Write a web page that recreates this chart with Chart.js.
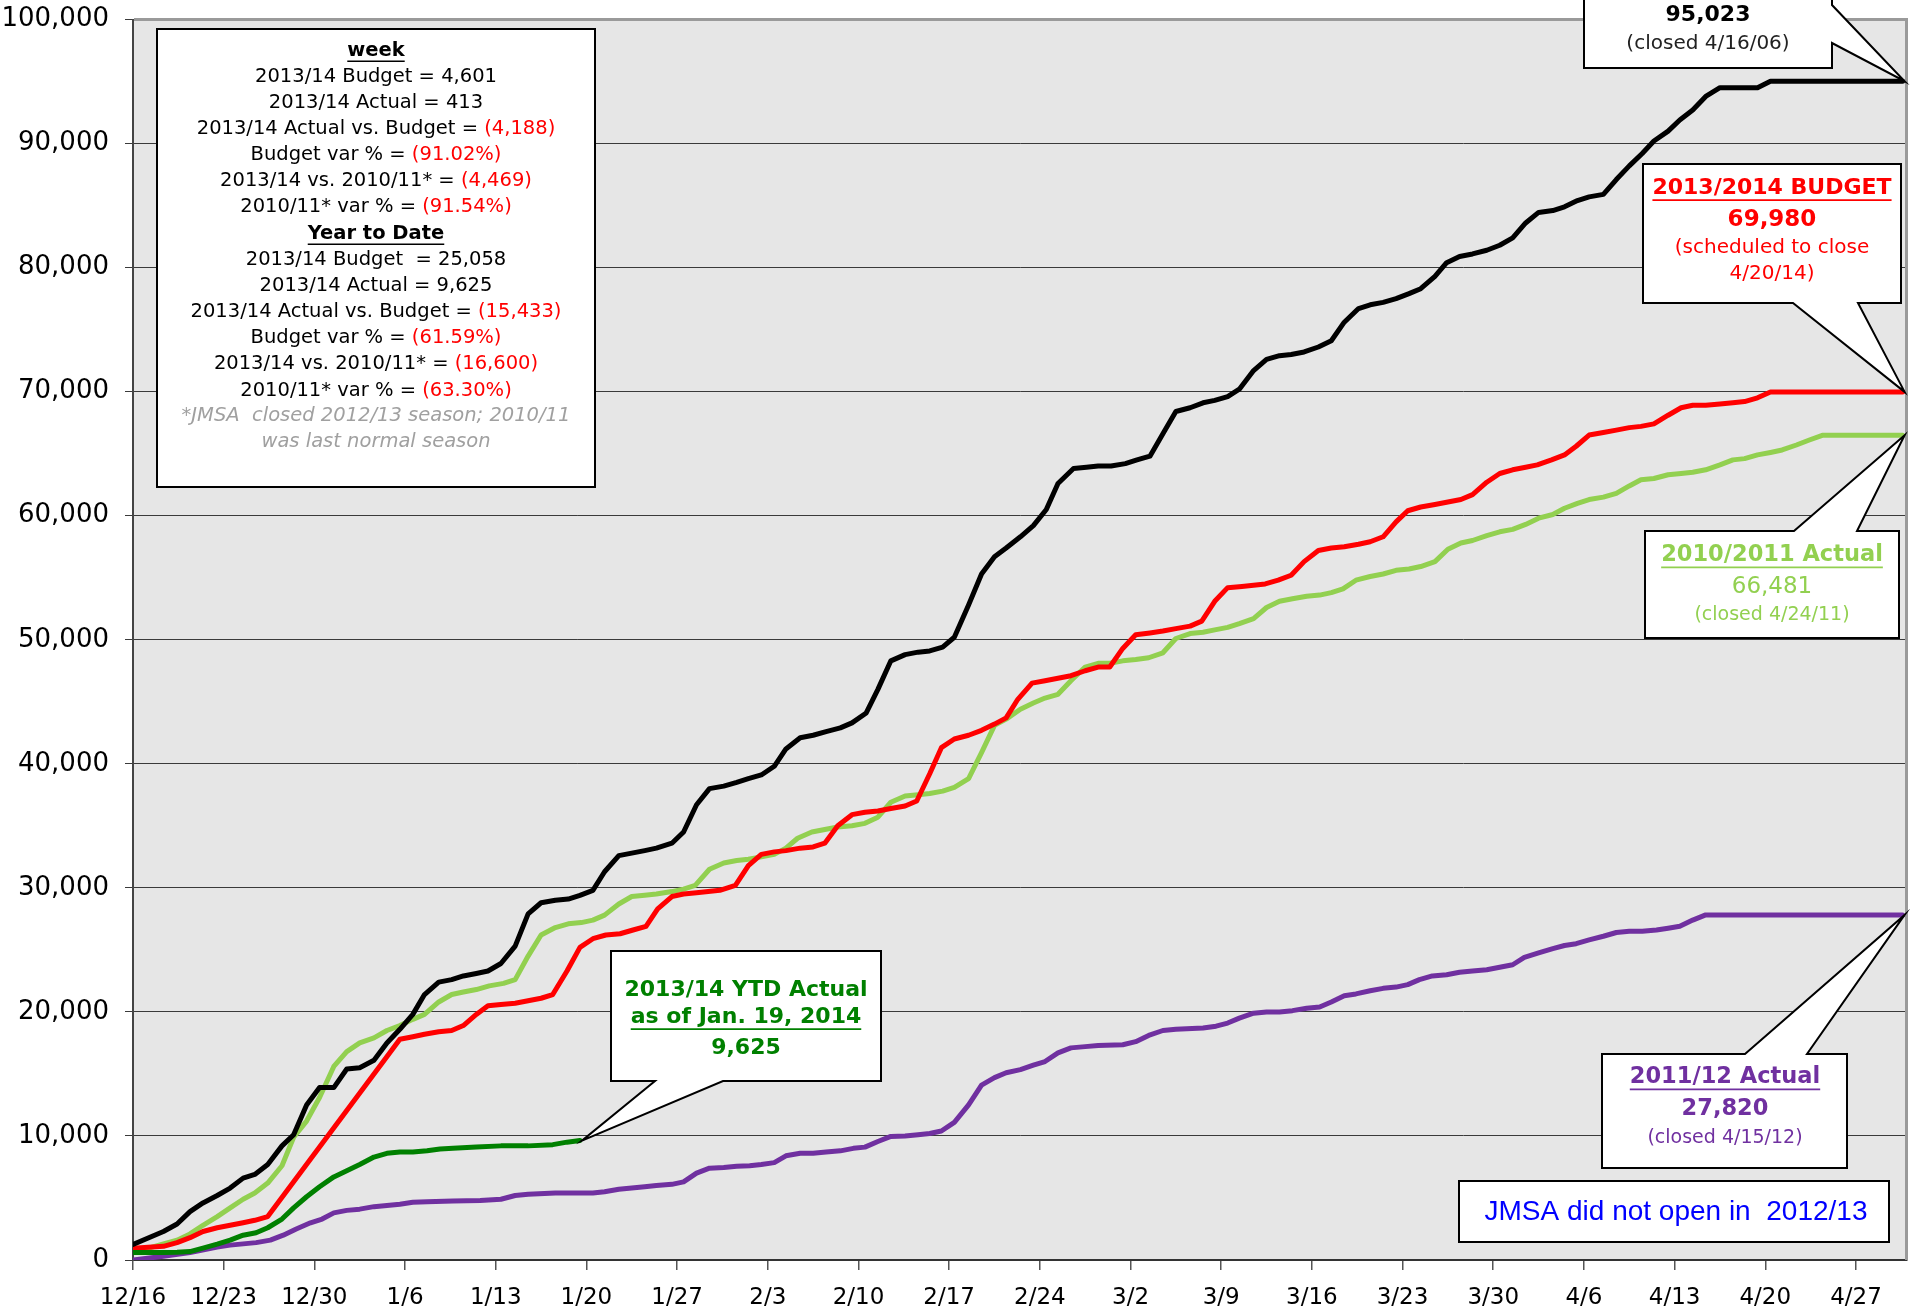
<!DOCTYPE html>
<html><head><meta charset="utf-8">
<script src="https://cdn.jsdelivr.net/npm/chart.js@4.4.1/dist/chart.umd.min.js"></script>
<style>html,body{margin:0;padding:0;background:#fff;}</style>
</head><body>
<canvas id="c" width="1916" height="1312"></canvas>
<script>
// x tick labels (one per week)
const tickLabels = ['12/16','12/23','12/30','1/6','1/13','1/20','1/27','2/3','2/10','2/17','2/24','3/2','3/9','3/16','3/23','3/30','4/6','4/13','4/20','4/27'];

// Each point: [days after 12/16, cumulative visits]
const record0506 = [[0,1250],[2.35,2300],[3.4,2900],[4.4,3900],[5.4,4600],[6.5,5200],[7.5,5800],[8.5,6600],[9.4,6900],[10.4,7700],[11.5,9200],[12.4,10100],[13.4,12500],[14.4,13900],[15.5,13900],[16.5,15400],[17.5,15500],[18.6,16100],[19.6,17500],[20.6,18600],[21.6,19800],[22.5,21400],[23.6,22400],[24.6,22600],[25.5,22900],[26.5,23100],[27.4,23300],[28.4,23900],[29.5,25300],[30.5,27900],[31.5,28800],[32.6,29000],[33.6,29100],[34.5,29400],[35.5,29800],[36.4,31300],[37.5,32600],[38.5,32800],[39.5,33000],[40.4,33200],[41.6,33600],[42.5,34500],[43.5,36700],[44.5,38000],[45.6,38200],[46.6,38500],[47.5,38800],[48.5,39100],[49.5,39800],[50.4,41200],[51.5,42100],[52.5,42300],[53.5,42600],[54.6,42900],[55.5,43300],[56.6,44100],[57.5,46000],[58.5,48300],[59.6,48800],[60.6,49000],[61.5,49100],[62.5,49400],[63.4,50200],[64.5,52800],[65.5,55300],[66.5,56700],[67.4,57400],[68.5,58300],[69.5,59200],[70.5,60500],[71.4,62600],[72.6,63800],[73.6,63900],[74.5,64000],[75.5,64000],[76.6,64200],[77.5,64500],[78.5,64800],[79.5,66600],[80.5,68400],[81.6,68700],[82.6,69100],[83.5,69300],[84.5,69600],[85.4,70200],[86.5,71700],[87.5,72600],[88.5,72900],[89.4,73000],[90.4,73200],[91.5,73600],[92.5,74100],[93.5,75600],[94.6,76700],[95.5,77000],[96.5,77200],[97.5,77500],[98.5,77900],[99.4,78300],[100.5,79300],[101.4,80400],[102.4,80900],[103.4,81100],[104.5,81400],[105.5,81800],[106.5,82400],[107.5,83600],[108.5,84450],[109.6,84600],[110.5,84900],[111.5,85400],[112.4,85700],[113.5,85900],[114.5,87100],[115.5,88200],[116.5,89200],[117.4,90200],[118.5,91000],[119.4,91900],[120.4,92700],[121.4,93800],[122.5,94500],[125.4,94500],[126.4,95023],[136.6,95023]];

const budget1314 = [[0,950],[2.35,1100],[3.4,1400],[4.4,1800],[5.4,2300],[6.5,2600],[7.5,2800],[8.5,3000],[9.4,3200],[10.4,3500],[20.6,17800],[21.6,18000],[22.5,18200],[23.6,18400],[24.6,18500],[25.5,18900],[26.5,19800],[27.4,20500],[28.4,20600],[29.5,20700],[30.5,20900],[31.5,21100],[32.4,21400],[33.5,23300],[34.5,25200],[35.5,25900],[36.5,26200],[37.6,26300],[38.6,26600],[39.6,26900],[40.5,28300],[41.6,29300],[42.5,29500],[43.5,29600],[44.4,29700],[45.3,29800],[46.5,30200],[47.5,31800],[48.5,32700],[49.5,32900],[50.4,33000],[51.5,33200],[52.5,33300],[53.4,33600],[54.4,35000],[55.5,35900],[56.5,36100],[57.5,36200],[58.5,36400],[59.6,36600],[60.5,37000],[61.5,39200],[62.4,41300],[63.4,42000],[64.5,42300],[65.5,42700],[66.5,43200],[67.4,43700],[68.3,45200],[69.4,46500],[70.4,46700],[71.4,46900],[72.4,47100],[73.5,47500],[74.5,47800],[75.4,47800],[76.4,49300],[77.4,50400],[78.5,50550],[79.5,50700],[80.5,50900],[81.6,51100],[82.5,51500],[83.5,53100],[84.5,54200],[85.6,54300],[86.5,54400],[87.4,54500],[88.4,54800],[89.4,55200],[90.4,56300],[91.5,57200],[92.5,57400],[93.5,57500],[94.6,57700],[95.5,57900],[96.5,58300],[97.5,59500],[98.4,60400],[99.4,60700],[100.5,60900],[101.5,61100],[102.5,61300],[103.4,61700],[104.5,62700],[105.5,63400],[106.5,63700],[107.5,63900],[108.4,64100],[109.5,64500],[110.5,64900],[111.4,65600],[112.4,66500],[113.5,66700],[114.5,66900],[115.5,67100],[116.4,67200],[117.4,67400],[118.5,68100],[119.5,68700],[120.4,68900],[121.4,68900],[122.5,69000],[123.5,69100],[124.4,69200],[125.4,69500],[126.4,69980],[136.6,69980]];

const actual1011 = [[0,600],[2.35,1300],[3.4,1600],[4.4,2100],[5.4,2800],[6.5,3500],[7.5,4200],[8.5,4900],[9.4,5400],[10.4,6200],[11.5,7600],[12.4,9900],[13.4,11200],[14.4,13100],[15.5,15600],[16.5,16800],[17.5,17500],[18.6,17900],[19.6,18500],[20.6,18900],[21.6,19400],[22.5,19800],[23.6,20800],[24.6,21400],[25.5,21600],[26.5,21800],[27.5,22100],[28.6,22300],[29.5,22600],[30.5,24500],[31.5,26200],[32.6,26800],[33.6,27100],[34.6,27200],[35.5,27400],[36.4,27800],[37.5,28700],[38.5,29300],[39.5,29400],[40.4,29500],[41.6,29700],[42.5,29900],[43.4,30200],[44.5,31500],[45.6,32000],[46.6,32200],[47.5,32300],[48.5,32500],[49.5,32700],[50.4,33200],[51.3,34000],[52.4,34500],[53.4,34700],[54.4,34900],[55.5,35000],[56.5,35200],[57.5,35700],[58.5,36900],[59.6,37400],[60.6,37500],[61.5,37600],[62.5,37800],[63.4,38100],[64.5,38800],[65.5,40900],[66.5,43100],[67.4,43600],[68.5,44400],[69.5,44900],[70.4,45300],[71.4,45600],[72.4,46700],[73.5,47800],[74.5,48100],[75.4,48100],[76.4,48300],[77.4,48400],[78.4,48550],[79.5,48950],[80.5,50100],[81.6,50500],[82.6,50600],[83.5,50800],[84.5,51000],[85.4,51300],[86.5,51700],[87.5,52600],[88.5,53100],[89.5,53300],[90.6,53500],[91.6,53600],[92.5,53800],[93.4,54100],[94.4,54800],[95.5,55100],[96.5,55300],[97.5,55600],[98.5,55700],[99.4,55900],[100.5,56300],[101.5,57300],[102.5,57800],[103.4,58000],[104.5,58400],[105.5,58700],[106.5,58900],[107.5,59300],[108.5,59800],[109.6,60100],[110.5,60600],[111.5,61000],[112.4,61300],[113.5,61500],[114.5,61800],[115.5,62400],[116.4,62900],[117.4,63000],[118.5,63300],[119.5,63400],[120.4,63500],[121.4,63700],[122.5,64100],[123.5,64500],[124.4,64600],[125.4,64900],[126.4,65100],[127.3,65300],[128.4,65700],[129.4,66100],[130.4,66481],[136.6,66481]];

const actual1112 = [[0,0],[2.35,300],[4.4,600],[6.5,1050],[7.5,1200],[8.5,1300],[9.5,1400],[10.6,1600],[11.6,2000],[12.6,2500],[13.7,3000],[14.6,3300],[15.5,3800],[16.5,4000],[17.5,4100],[18.6,4300],[19.6,4400],[20.6,4500],[21.6,4650],[22.7,4700],[24.7,4750],[26.8,4800],[28.4,4900],[29.5,5200],[30.5,5300],[32.6,5400],[35.5,5400],[36.4,5500],[37.5,5700],[38.5,5800],[39.5,5900],[40.4,6000],[41.6,6100],[42.5,6300],[43.5,7000],[44.5,7400],[45.6,7450],[46.6,7550],[47.6,7600],[48.5,7700],[49.5,7850],[50.4,8400],[51.5,8600],[52.5,8600],[53.5,8700],[54.6,8800],[55.6,9000],[56.5,9100],[57.5,9550],[58.5,9960],[59.6,10000],[60.6,10100],[61.5,10200],[62.4,10400],[63.4,11100],[64.5,12500],[65.5,14100],[66.5,14700],[67.4,15100],[68.5,15350],[69.5,15700],[70.4,16000],[71.4,16700],[72.4,17100],[73.5,17200],[74.5,17300],[76.4,17350],[77.4,17600],[78.4,18100],[79.5,18500],[80.5,18600],[82.6,18700],[83.6,18850],[84.5,19100],[85.4,19500],[86.5,19900],[87.5,20000],[88.5,20000],[89.5,20100],[90.6,20300],[91.6,20400],[92.5,20800],[93.5,21300],[94.4,21450],[95.5,21700],[96.5,21900],[97.5,22000],[98.4,22200],[99.3,22600],[100.3,22900],[101.4,23000],[102.4,23200],[103.4,23300],[104.5,23400],[105.5,23600],[106.5,23800],[107.4,24400],[108.5,24750],[109.6,25100],[110.5,25350],[111.4,25500],[112.4,25800],[113.5,26100],[114.5,26400],[115.5,26500],[116.5,26500],[117.6,26600],[118.5,26750],[119.4,26900],[120.4,27400],[121.4,27820],[136.6,27820]];

const actual1314 = [[0,600],[2.35,600],[3.4,620],[4.4,680],[5.4,960],[6.5,1280],[7.5,1600],[8.5,2000],[9.5,2200],[10.4,2600],[11.5,3300],[12.4,4200],[13.4,5100],[14.4,5900],[15.5,6700],[16.5,7200],[17.5,7700],[18.6,8300],[19.6,8600],[20.6,8700],[21.6,8700],[22.7,8800],[23.7,8950],[24.7,9000],[26.5,9100],[28.4,9200],[30.5,9200],[32.4,9300],[33.5,9500],[34.5,9625]];

// Text of the boxes
const weekLines = [
  [['2013/14 Budget = 4,601','#000']],
  [['2013/14 Actual = 413','#000']],
  [['2013/14 Actual vs. Budget = ','#000'],['(4,188)','#ff0000']],
  [['Budget var % = ','#000'],['(91.02%)','#ff0000']],
  [['2013/14 vs. 2010/11* = ','#000'],['(4,469)','#ff0000']],
  [['2010/11* var % = ','#000'],['(91.54%)','#ff0000']]
];
const ytdLines = [
  [['2013/14 Budget  = 25,058','#000']],
  [['2013/14 Actual = 9,625','#000']],
  [['2013/14 Actual vs. Budget = ','#000'],['(15,433)','#ff0000']],
  [['Budget var % = ','#000'],['(61.59%)','#ff0000']],
  [['2013/14 vs. 2010/11* = ','#000'],['(16,600)','#ff0000']],
  [['2010/11* var % = ','#000'],['(63.30%)','#ff0000']]
];
const noteLines = ['*JMSA  closed 2012/13 season; 2010/11','was last normal season'];

const FONT = '"DejaVu Sans", sans-serif';
const pts = a => a.map(p => ({x:p[0], y:p[1]}));

function drawRuns(ctx, runs, cx, y, font, size, underline) {
  ctx.font = font;
  ctx.textBaseline = 'middle';
  ctx.textAlign = 'left';
  const widths = runs.map(r => ctx.measureText(r[0]).width);
  const total = widths.reduce((s, w) => s + w, 0);
  let x = cx - total / 2;
  runs.forEach((r, i) => { ctx.fillStyle = r[1]; ctx.fillText(r[0], x, y); x += widths[i]; });
  if (underline) {
    ctx.strokeStyle = runs[0][1];
    ctx.lineWidth = Math.max(1.5, size / 12);
    ctx.beginPath();
    ctx.moveTo(cx - total / 2, y + size * 0.55);
    ctx.lineTo(cx + total / 2, y + size * 0.55);
    ctx.stroke();
  }
}

function calloutShape(ctx, b, w, tip) {
  ctx.save();
  ctx.beginPath();
  ctx.moveTo(b.x1, b.y1);
  if (w && w.side === 'top') { ctx.lineTo(w.a, b.y1); ctx.lineTo(tip.x, tip.y); ctx.lineTo(w.b, b.y1); }
  ctx.lineTo(b.x2, b.y1);
  if (w && w.side === 'right') { ctx.lineTo(b.x2, w.a); ctx.lineTo(tip.x, tip.y); ctx.lineTo(b.x2, w.b); }
  ctx.lineTo(b.x2, b.y2);
  if (w && w.side === 'bottom') { ctx.lineTo(w.b, b.y2); ctx.lineTo(tip.x, tip.y); ctx.lineTo(w.a, b.y2); }
  ctx.lineTo(b.x1, b.y2);
  ctx.closePath();
  ctx.fillStyle = '#fff';
  ctx.fill();
  ctx.strokeStyle = '#000';
  ctx.lineWidth = 2;
  ctx.lineJoin = 'miter';
  ctx.stroke();
  ctx.restore();
}

const framePlugin = {
  id: 'frame',
  beforeDraw(chart) {
    const {ctx, chartArea: a} = chart;
    ctx.save();
    ctx.fillStyle = '#e6e6e6';
    ctx.fillRect(a.left, a.top, a.right - a.left, a.bottom - a.top);
    ctx.restore();
  },
  beforeDatasetsDraw(chart) {
    const {ctx, chartArea: a} = chart;
    ctx.save();
    ctx.strokeStyle = '#9a9a9a';
    ctx.lineWidth = 3;
    ctx.beginPath();
    ctx.moveTo(a.left + 1, a.top);
    ctx.lineTo(a.right, a.top);
    ctx.lineTo(a.right, a.bottom);
    ctx.stroke();
    ctx.restore();
  }
};

const calloutPlugin = {
  id: 'callouts',
  afterDraw(chart) {
    const ctx = chart.ctx;
    const xs = chart.scales.x, ys = chart.scales.y;
    const tipOf = arr => { const p = arr[arr.length - 1]; return {x: xs.getPixelForValue(p[0]) + 2, y: ys.getPixelForValue(p[1])}; };
    ctx.save();

    // Info box (top-left)
    calloutShape(ctx, {x1:157, y1:29, x2:595, y2:487}, null, null);
    const cx = 376, fs = 19.5;
    drawRuns(ctx, [['week','#000']], cx, 50.5, `bold ${fs}px ${FONT}`, fs, true);
    weekLines.forEach((l, i) => drawRuns(ctx, l, cx, 76.5 + i * 26.1, `${fs}px ${FONT}`, fs, false));
    drawRuns(ctx, [['Year to Date','#000']], cx, 233.5, `bold ${fs}px ${FONT}`, fs, true);
    ytdLines.forEach((l, i) => drawRuns(ctx, l, cx, 259.5 + i * 26.2, `${fs}px ${FONT}`, fs, false));
    noteLines.forEach((t, i) => drawRuns(ctx, [[t,'#a0a0a0']], cx, 416 + i * 26, `italic ${fs}px ${FONT}`, fs, false));

    // Record season callout (top right)
    calloutShape(ctx, {x1:1584, y1:-40, x2:1832, y2:68}, {side:'right', a:5, b:43}, tipOf(record0506));
    drawRuns(ctx, [['95,023','#000']], 1708, 15, `bold 22px ${FONT}`, 22, false);
    drawRuns(ctx, [['(closed 4/16/06)','#222']], 1708, 44, `20px ${FONT}`, 20, false);

    // Budget callout
    calloutShape(ctx, {x1:1643, y1:164, x2:1901, y2:303}, {side:'bottom', a:1793, b:1858}, tipOf(budget1314));
    drawRuns(ctx, [['2013/2014 BUDGET','#ff0000']], 1772, 188, `bold 22px ${FONT}`, 22, true);
    drawRuns(ctx, [['69,980','#ff0000']], 1772, 220, `bold 23px ${FONT}`, 23, false);
    drawRuns(ctx, [['(scheduled to close','#ff0000']], 1772, 248, `20px ${FONT}`, 20, false);
    drawRuns(ctx, [['4/20/14)','#ff0000']], 1772, 274, `20px ${FONT}`, 20, false);

    // 2010/11 callout
    calloutShape(ctx, {x1:1645, y1:531, x2:1899, y2:638}, {side:'top', a:1794, b:1857}, tipOf(actual1011));
    drawRuns(ctx, [['2010/2011 Actual','#92d050']], 1772, 555, `bold 22.5px ${FONT}`, 22.5, true);
    drawRuns(ctx, [['66,481','#92d050']], 1772, 587, `23px ${FONT}`, 23, false);
    drawRuns(ctx, [['(closed 4/24/11)','#92d050']], 1772, 615, `19px ${FONT}`, 19, false);

    // 2013/14 YTD callout
    calloutShape(ctx, {x1:611, y1:951, x2:881, y2:1081}, {side:'bottom', a:655, b:723}, tipOf(actual1314));
    drawRuns(ctx, [['2013/14 YTD Actual','#008000']], 746, 990, `bold 22px ${FONT}`, 22, false);
    drawRuns(ctx, [['as of Jan. 19, 2014','#008000']], 746, 1017, `bold 22px ${FONT}`, 22, true);
    drawRuns(ctx, [['9,625','#008000']], 746, 1048, `bold 22px ${FONT}`, 22, false);

    // 2011/12 callout
    calloutShape(ctx, {x1:1602, y1:1054, x2:1847, y2:1168}, {side:'top', a:1745, b:1807}, tipOf(actual1112));
    drawRuns(ctx, [['2011/12 Actual','#7030a0']], 1725, 1077, `bold 22.5px ${FONT}`, 22.5, true);
    drawRuns(ctx, [['27,820','#7030a0']], 1725, 1109, `bold 22.5px ${FONT}`, 22.5, false);
    drawRuns(ctx, [['(closed 4/15/12)','#7030a0']], 1725, 1138, `19px ${FONT}`, 19, false);

    // Note box
    calloutShape(ctx, {x1:1459, y1:1181, x2:1889, y2:1242}, null, null);
    drawRuns(ctx, [['JMSA did not open in  2012/13','#0000ff']], 1676, 1212, `28px "Liberation Sans", Arial, sans-serif`, 28, false);

    ctx.restore();
  }
};

const lineDs = (label, arr, color) => ({
  label, data: pts(arr), borderColor: color, backgroundColor: color,
  borderWidth: 5, pointRadius: 0, tension: 0, fill: false,
  borderJoinStyle: 'round', borderCapStyle: 'round'
});

new Chart(document.getElementById('c'), {
  type: 'line',
  data: {
    datasets: [
      lineDs('2013/14 YTD Actual', actual1314, '#008000'),
      lineDs('Record season (closed 4/16/06)', record0506, '#000000'),
      lineDs('2013/2014 Budget', budget1314, '#ff0000'),
      lineDs('2011/12 Actual', actual1112, '#7030a0'),
      lineDs('2010/2011 Actual', actual1011, '#92d050')
    ]
  },
  options: {
    responsive: false,
    animation: false,
    devicePixelRatio: 1,
    layout: {padding: {top: 19.5, right: 9.5, left: 0, bottom: 0}},
    plugins: {legend: {display: false}, tooltip: {enabled: false}, title: {display: false}},
    scales: {
      x: {
        type: 'linear', min: 0, max: 136.9,
        afterFit(s) { s.height = 52; s.paddingLeft = 0; s.paddingRight = 0; },
        afterBuildTicks(s) { s.ticks = tickLabels.map((_, i) => ({value: i * 7})); },
        ticks: {
          autoSkip: false, maxRotation: 0, minRotation: 0, padding: 14, color: '#000',
          font: {family: 'DejaVu Sans', size: 23},
          callback: (v) => tickLabels[Math.round(v / 7)] ?? ''
        },
        grid: {drawOnChartArea: false, drawTicks: true, tickLength: 10, color: '#555', lineWidth: 1.5},
        border: {display: true, color: '#333', width: 2}
      },
      y: {
        min: 0, max: 100000,
        afterFit(s) { s.width = 133; s.paddingTop = 0; s.paddingBottom = 0; },
        ticks: {
          stepSize: 10000, padding: 16, color: '#000',
          font: {family: 'DejaVu Sans', size: 26},
          callback: (v) => v.toLocaleString('en-US')
        },
        grid: {color: '#3a3a3a', lineWidth: 1, drawTicks: true, tickLength: 8},
        border: {display: true, color: '#444', width: 2}
      }
    }
  },
  plugins: [framePlugin, calloutPlugin]
});
</script>
</body></html>
